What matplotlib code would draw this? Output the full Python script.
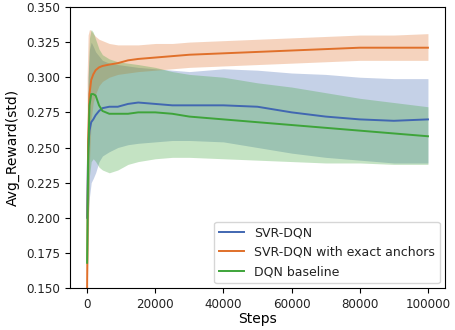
import matplotlib
matplotlib.use('Agg')
import matplotlib.pyplot as plt
import numpy as np

steps = [0, 300, 700, 1200, 1800, 2500, 3500, 4500, 6500, 9000, 12000, 15000,
         20000, 25000, 30000, 40000, 50000, 60000, 70000, 80000, 90000, 100000]

svr_mean = [0.200, 0.250, 0.262, 0.268, 0.270, 0.273, 0.276, 0.278, 0.279, 0.279, 0.281, 0.282,
            0.281, 0.280, 0.280, 0.280, 0.279, 0.275, 0.272, 0.270, 0.269, 0.270]
svr_upper = [0.250, 0.300, 0.320, 0.325, 0.322, 0.318, 0.315, 0.312, 0.310, 0.309, 0.308, 0.307,
             0.306, 0.305, 0.304, 0.306, 0.305, 0.303, 0.302, 0.300, 0.299, 0.299]
svr_lower = [0.150, 0.200, 0.215, 0.225, 0.228, 0.232, 0.240, 0.244, 0.247, 0.250, 0.252, 0.253,
             0.254, 0.255, 0.255, 0.254, 0.250, 0.246, 0.243, 0.241, 0.239, 0.239]

exact_mean = [0.150, 0.255, 0.288, 0.298, 0.302, 0.305, 0.307, 0.308, 0.309, 0.310, 0.312, 0.313,
              0.314, 0.315, 0.316, 0.317, 0.318, 0.319, 0.320, 0.321, 0.321, 0.321]
exact_upper = [0.300, 0.330, 0.334, 0.333, 0.331, 0.329, 0.327, 0.326, 0.324, 0.323, 0.323, 0.323,
               0.324, 0.324, 0.325, 0.326, 0.327, 0.328, 0.329, 0.330, 0.330, 0.331]
exact_lower = [0.150, 0.170, 0.240, 0.270, 0.282, 0.288, 0.294, 0.297, 0.300, 0.302, 0.303, 0.304,
               0.305, 0.306, 0.307, 0.308, 0.309, 0.310, 0.311, 0.312, 0.312, 0.312]

dqn_mean = [0.168, 0.240, 0.280, 0.288, 0.288, 0.287, 0.280, 0.276, 0.274, 0.274, 0.274, 0.275,
            0.275, 0.274, 0.272, 0.270, 0.268, 0.266, 0.264, 0.262, 0.260, 0.258]
dqn_upper = [0.220, 0.300, 0.328, 0.334, 0.332, 0.327, 0.320, 0.316, 0.313, 0.311, 0.310, 0.309,
             0.307, 0.304, 0.302, 0.300, 0.296, 0.293, 0.289, 0.285, 0.282, 0.279]
dqn_lower = [0.150, 0.200, 0.230, 0.240, 0.242, 0.240, 0.236, 0.234, 0.232, 0.234, 0.238, 0.240,
             0.242, 0.243, 0.243, 0.242, 0.241, 0.240, 0.239, 0.239, 0.238, 0.238]

labels = ['SVR-DQN', 'SVR-DQN with exact anchors', 'DQN baseline']
colors = ['#4167b1', '#e0702a', '#3ea43a']

plt.rcParams['font.size'] = 9
plt.rcParams['text.color'] = '#222222'
plt.rcParams['xtick.labelcolor'] = '#222222'
plt.rcParams['ytick.labelcolor'] = '#222222'
fig = plt.figure(figsize=(4.55, 3.3), dpi=100)
ax = fig.add_axes([0.154, 0.127, 0.824, 0.852])

series = [(svr_mean, svr_lower, svr_upper),
          (exact_mean, exact_lower, exact_upper),
          (dqn_mean, dqn_lower, dqn_upper)]

for (m, lo, hi), lab, c in zip(series, labels, colors):
    ax.plot(steps, m, color=c, lw=1.4, label=lab)
    ax.fill_between(steps, lo, hi, color=c, alpha=0.3, lw=0)

ax.set_ylim(0.15, 0.35)
ax.set_yticks(np.arange(0.15, 0.351, 0.025))
ax.yaxis.set_major_formatter(matplotlib.ticker.FormatStrFormatter('%.3f'))
ax.tick_params(labelsize=8.6)
ax.set_xlabel('Steps', fontsize=10, labelpad=1)
ax.set_ylabel('Avg_Reward(std)', fontsize=10, labelpad=5)
ax.legend(loc='lower right', fontsize=9, borderaxespad=0.4)

fig.savefig('out.png', dpi=100)
